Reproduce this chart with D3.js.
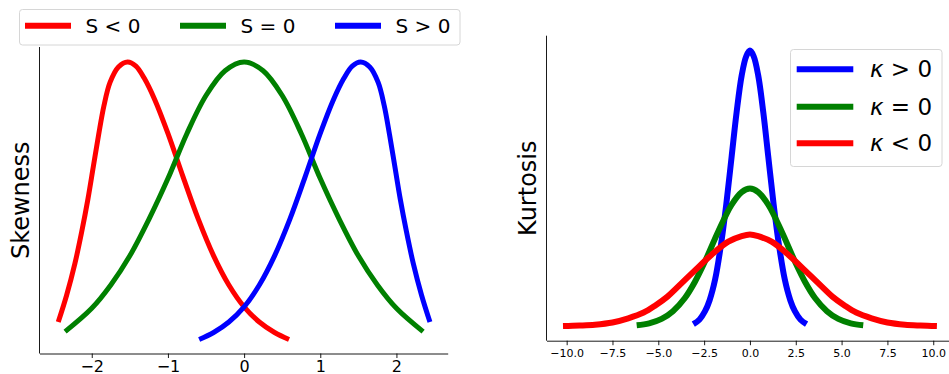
<!DOCTYPE html>
<html>
<head>
<meta charset="utf-8">
<script src="https://cdn.jsdelivr.net/npm/d3@7"></script>
<style>
  html, body { margin: 0; padding: 0; background: #fff; }
  svg { display: block; font-family: "DejaVu Sans", sans-serif; }
</style>
</head>
<body>
<svg id="fig" width="949" height="374"></svg>
<script>
// ---- Skewness panel: three curves of equal peak height ----
const skewLabels = ["S < 0", "S = 0", "S > 0"];
const skewColors = ["#ff0000", "#008000", "#0000ff"];

const negSkewX = [-2.44, -2.33, -2.22, -2.13, -2.05, -1.98, -1.91, -1.84, -1.76, -1.65, -1.53,
                  -1.42, -1.31, -1.17, -1.0, -0.8, -0.6, -0.4, -0.2, 0.0, 0.2, 0.4, 0.59];
const negSkewY = [0.108, 0.200, 0.310, 0.420, 0.530, 0.640, 0.750, 0.850, 0.930, 0.983, 1.0,
                  0.986, 0.944, 0.869, 0.755, 0.605, 0.460, 0.335, 0.235, 0.160, 0.108, 0.072, 0.048];

const zeroSkewX = [-2.35, -2.0, -1.75, -1.5, -1.25, -1.0, -0.75, -0.5, -0.25, 0,
                   0.25, 0.5, 0.75, 1.0, 1.25, 1.5, 1.75, 2.0, 2.35];
const zeroSkewY = [0.075, 0.155, 0.235, 0.335, 0.460, 0.600, 0.755, 0.885, 0.970, 1.0,
                   0.970, 0.885, 0.755, 0.600, 0.460, 0.335, 0.235, 0.155, 0.075];

const posSkewX = [-0.59, -0.4, -0.2, 0.0, 0.2, 0.4, 0.6, 0.8, 1.0, 1.17, 1.31, 1.42,
                  1.53, 1.65, 1.76, 1.84, 1.91, 1.98, 2.05, 2.13, 2.22, 2.33, 2.44];
const posSkewY = [0.048, 0.072, 0.108, 0.160, 0.235, 0.335, 0.460, 0.605, 0.755, 0.869, 0.944, 0.986,
                  1.0, 0.983, 0.930, 0.850, 0.750, 0.640, 0.530, 0.420, 0.310, 0.200, 0.108];

const skewTicks = [-2, -1, 0, 1, 2];

// ---- Kurtosis panel: three symmetric curves of different peakedness ----
const kurtLabels = ["κ > 0", "κ = 0", "κ < 0"];
const kurtColors = ["#0000ff", "#008000", "#ff0000"];

const lepX = [-3.09, -2.75, -2.45, -2.2, -1.9, -1.55, -1.27, -1.0, -0.73, -0.45, -0.2, 0,
              0.2, 0.45, 0.73, 1.0, 1.27, 1.55, 1.9, 2.2, 2.45, 2.75, 3.09];
const lepY = [0.008, 0.025, 0.055, 0.095, 0.17, 0.31, 0.455, 0.615, 0.775, 0.91, 0.98, 1.0,
              0.98, 0.91, 0.775, 0.615, 0.455, 0.31, 0.17, 0.095, 0.055, 0.025, 0.008];

const mesoX = [-6.18, -5.5, -4.82, -4.2, -3.55, -3.0, -2.45, -1.73, -1.0, -0.45, 0,
               0.45, 1.0, 1.73, 2.45, 3.0, 3.55, 4.2, 4.82, 5.5, 6.18];
const mesoY = [0.004, 0.011, 0.027, 0.055, 0.103, 0.162, 0.236, 0.344, 0.441, 0.487, 0.5,
               0.487, 0.441, 0.344, 0.236, 0.162, 0.103, 0.055, 0.027, 0.011, 0.004];

const platyX = [-10.2, -9.3, -8.46, -7.5, -6.64, -5.8, -5.18, -4.5, -3.91, -3.0, -2.09, -1.18, -0.45, 0,
                0.45, 1.18, 2.09, 3.0, 3.91, 4.5, 5.18, 5.8, 6.64, 7.5, 8.46, 9.3, 10.2];
const platyY = [0.001, 0.003, 0.006, 0.014, 0.029, 0.05, 0.075, 0.108, 0.145, 0.203, 0.26, 0.307, 0.327, 0.333,
                0.327, 0.307, 0.26, 0.203, 0.145, 0.108, 0.075, 0.05, 0.029, 0.014, 0.006, 0.003, 0.001];

const kurtTicks = [-10, -7.5, -5, -2.5, 0, 2.5, 5, 7.5, 10];

// ---------------------------------------------------------------
const svg = d3.select("#fig");
const zip = (xs, ys) => xs.map((x, i) => ({ x, y: ys[i] }));
const fmtMinus = s => s.replace("-", "\u2212");
const smooth = d3.curveCatmullRom.alpha(0.5);

// ---------- Left panel ----------
const L = { left: 39.5, right: 447.7, top: 47, bottom: 353.5 };
const xS = d3.scaleLinear().domain([-2.686, 2.673]).range([L.left, L.right]);
const yS = d3.scaleLinear().domain([0, 1.0515]).range([L.bottom, L.top]);

const lineS = d3.line().x(d => xS(d.x)).y(d => yS(d.y)).curve(smooth);
const skewSeries = [zip(negSkewX, negSkewY), zip(zeroSkewX, zeroSkewY), zip(posSkewX, posSkewY)];

const gL = svg.append("g");
skewSeries.forEach((s, i) => {
  gL.append("path").datum(s).attr("d", lineS)
    .attr("fill", "none").attr("stroke", skewColors[i])
    .attr("stroke-width", 5).attr("stroke-linecap", "butt").attr("stroke-linejoin", "round");
});

// spines
gL.append("line").attr("x1", L.left).attr("x2", L.left).attr("y1", L.top).attr("y2", L.bottom)
  .attr("stroke", "#000").attr("stroke-width", 0.9);
const axL = gL.append("g").attr("transform", `translate(0,${L.bottom})`)
  .call(d3.axisBottom(xS).tickValues(skewTicks).tickFormat(d => fmtMinus(d3.format("d")(d)))
        .tickSize(4.5).tickSizeOuter(0).tickPadding(3));
axL.select(".domain").attr("stroke", "#000").attr("stroke-width", 0.9);
axL.selectAll(".tick line").attr("stroke", "#000").attr("stroke-width", 0.9);
axL.selectAll(".tick text").attr("font-size", 16).attr("font-family", "DejaVu Sans").attr("fill", "#000");

gL.append("text").text("Skewness")
  .attr("transform", `translate(21,${(L.top + L.bottom) / 2}) rotate(-90)`)
  .attr("text-anchor", "middle").attr("dominant-baseline", "central")
  .attr("font-size", 24).attr("fill", "#000");

// legend across the top
const legL = gL.append("g");
legL.append("rect").attr("x", 19.5).attr("y", 9.5).attr("width", 440.5).attr("height", 35.5)
  .attr("rx", 3).attr("fill", "#fff").attr("fill-opacity", 0.8)
  .attr("stroke", "#d6d6d6").attr("stroke-width", 1);
const legLineX = [25, 180, 335];
skewLabels.forEach((lab, i) => {
  legL.append("line").attr("x1", legLineX[i]).attr("x2", legLineX[i] + 46)
    .attr("y1", 25.7).attr("y2", 25.7).attr("stroke", skewColors[i]).attr("stroke-width", 6);
  legL.append("text").attr("x", legLineX[i] + 60.5).attr("y", 25.7)
    .attr("dominant-baseline", "central").attr("font-size", 20).attr("fill", "#000").text(lab);
});

// ---------- Right panel ----------
const R = { left: 546.5, right: 949, top: 35.7, bottom: 340.7 };
const xK = d3.scaleLinear().domain([-11.1, 10.86]).range([R.left, R.right]);
const yK = d3.scaleLinear().domain([-0.052, 1.054]).range([R.bottom, R.top]);

const lineK = d3.line().x(d => xK(d.x)).y(d => yK(d.y)).curve(smooth);
const kurtSeries = [zip(lepX, lepY), zip(mesoX, mesoY), zip(platyX, platyY)];

const gR = svg.append("g");
// draw order: blue, green, red (red on top)
kurtSeries.forEach((s, i) => {
  gR.append("path").datum(s).attr("d", lineK)
    .attr("fill", "none").attr("stroke", kurtColors[i])
    .attr("stroke-width", 6).attr("stroke-linecap", "butt").attr("stroke-linejoin", "round");
});

gR.append("line").attr("x1", R.left).attr("x2", R.left).attr("y1", R.top).attr("y2", R.bottom)
  .attr("stroke", "#000").attr("stroke-width", 0.9);
const axR = gR.append("g").attr("transform", `translate(0,${R.bottom})`)
  .call(d3.axisBottom(xK).tickValues(kurtTicks).tickFormat(d => fmtMinus(d3.format(".1f")(d)))
        .tickSize(4.5).tickSizeOuter(0).tickPadding(4.3));
axR.select(".domain").attr("stroke", "#000").attr("stroke-width", 0.9);
axR.selectAll(".tick line").attr("stroke", "#000").attr("stroke-width", 0.9);
axR.selectAll(".tick text").attr("font-size", 11).attr("font-family", "DejaVu Sans").attr("fill", "#000");

gR.append("text").text("Kurtosis")
  .attr("transform", `translate(528,${(R.top + R.bottom) / 2}) rotate(-90)`)
  .attr("text-anchor", "middle").attr("dominant-baseline", "central")
  .attr("font-size", 24).attr("fill", "#000");

// legend in the upper right
const legR = gR.append("g");
legR.append("rect").attr("x", 790.5).attr("y", 49.5).attr("width", 151.5).attr("height", 117)
  .attr("rx", 3).attr("fill", "#fff").attr("fill-opacity", 0.8)
  .attr("stroke", "#d6d6d6").attr("stroke-width", 1);
const legRY = [69.3, 106.7, 143.3];
kurtLabels.forEach((lab, i) => {
  legR.append("line").attr("x1", 796.7).attr("x2", 853.3)
    .attr("y1", legRY[i]).attr("y2", legRY[i]).attr("stroke", kurtColors[i]).attr("stroke-width", 6);
  const t = legR.append("text").attr("x", 870).attr("y", legRY[i])
    .attr("dominant-baseline", "central").attr("font-size", 23).attr("fill", "#000");
  t.append("tspan").attr("font-style", "italic").text(lab.slice(0, 1));
  t.append("tspan").text(lab.slice(1));
});
</script>
</body>
</html>
